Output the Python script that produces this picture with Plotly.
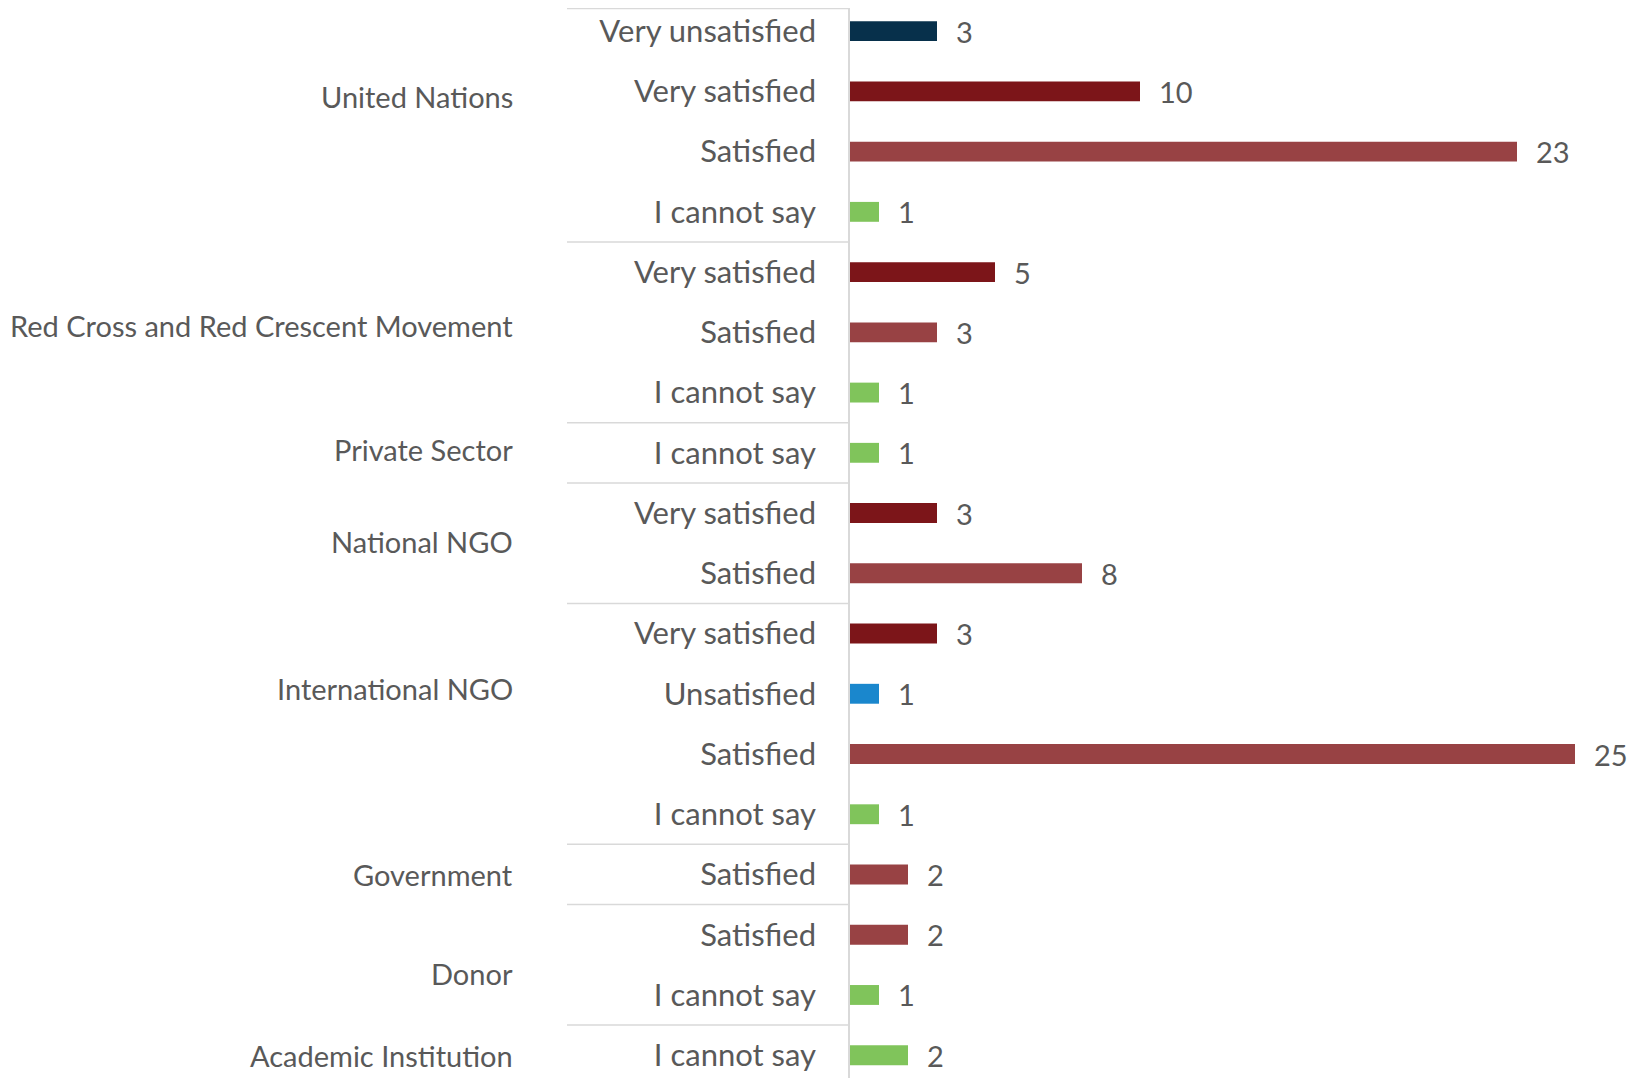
import plotly.graph_objects as go

# organisation groups, top to bottom
groups = ["United Nations", "Red Cross and Red Crescent Movement", "Private Sector",
          "National NGO", "International NGO", "Government", "Donor", "Academic Institution"]
group_sizes = [4, 3, 1, 2, 4, 1, 2, 1]

answers = ["Very unsatisfied", "Very satisfied", "Satisfied", "I cannot say",
           "Very satisfied", "Satisfied", "I cannot say",
           "I cannot say",
           "Very satisfied", "Satisfied",
           "Very satisfied", "Unsatisfied", "Satisfied", "I cannot say",
           "Satisfied",
           "Satisfied", "I cannot say",
           "I cannot say"]
counts = [3, 10, 23, 1,
          5, 3, 1,
          1,
          3, 8,
          3, 1, 25, 1,
          2,
          2, 1,
          2]

colors = {
    "Very unsatisfied": "#07304B",
    "Unsatisfied": "#1A87CD",
    "I cannot say": "#80C45B",
    "Satisfied": "#984244",
    "Very satisfied": "#7C1519",
}

# page body has an 8px margin on every side, so the figure is sized to fit the window
W, H = 1621, 1070
L = 842
FONT = "Lato"
FS = 31
GREY = "#595959"
PITCH = 60.24
n = len(answers)
rows = list(range(n))

fig = go.Figure(go.Bar(
    x=counts, y=rows, orientation="h",
    marker=dict(color=[colors[a] for a in answers], line=dict(width=0)),
    width=0.33, hoverinfo="x+y",
))

# value labels
for r, v in zip(rows, counts):
    fig.add_annotation(x=v, y=r, text=str(v), showarrow=False, xanchor="left",
                       xshift=17, font=dict(family=FONT, size=29, color=GREY))

# separators between groups (inner label column only)
x_left = (559 - L) / (W - L)
y_top = -0.384
y_bot = y_top + H / PITCH
bounds = [0]
for s in group_sizes:
    bounds.append(bounds[-1] + s)
for b in bounds:
    yv = b - 0.5
    if yv > y_bot:
        continue
    yv = max(yv, y_top + 0.01)
    fig.add_shape(type="line", xref="paper", yref="y", x0=x_left, x1=0,
                  y0=yv, y1=yv, line=dict(color="#D9D9D9", width=1.5))

# group labels
label_pos = [1.09, 4.89, 6.95, 8.47, 10.92, 14.0, 15.65, 17.0]
x_grp = (507 - L) / (W - L)
for g, p in zip(groups, label_pos):
    fig.add_annotation(x=x_grp, xref="paper", y=p, yref="y", text=g, showarrow=False,
                       xanchor="right", font=dict(family=FONT, size=29, color=GREY))

fig.update_layout(
    width=W, height=H,
    margin=dict(l=L, r=0, t=0, b=0),
    plot_bgcolor="white", paper_bgcolor="white",
    showlegend=False,
    font=dict(family=FONT, size=FS, color=GREY),
)
fig.update_xaxes(range=[0, (W - L) / 29.0], showgrid=False, zeroline=False,
                 showticklabels=False, showline=False)
fig.update_yaxes(tickmode="array", tickvals=rows, ticktext=answers,
                 range=[y_bot, y_top], showgrid=False, zeroline=False,
                 showline=True, linecolor="#D9D9D9", linewidth=1.5,
                 ticks="", ticklabelstandoff=26,
                 tickfont=dict(family=FONT, size=FS, color=GREY))

fig.write_html("out.html")
